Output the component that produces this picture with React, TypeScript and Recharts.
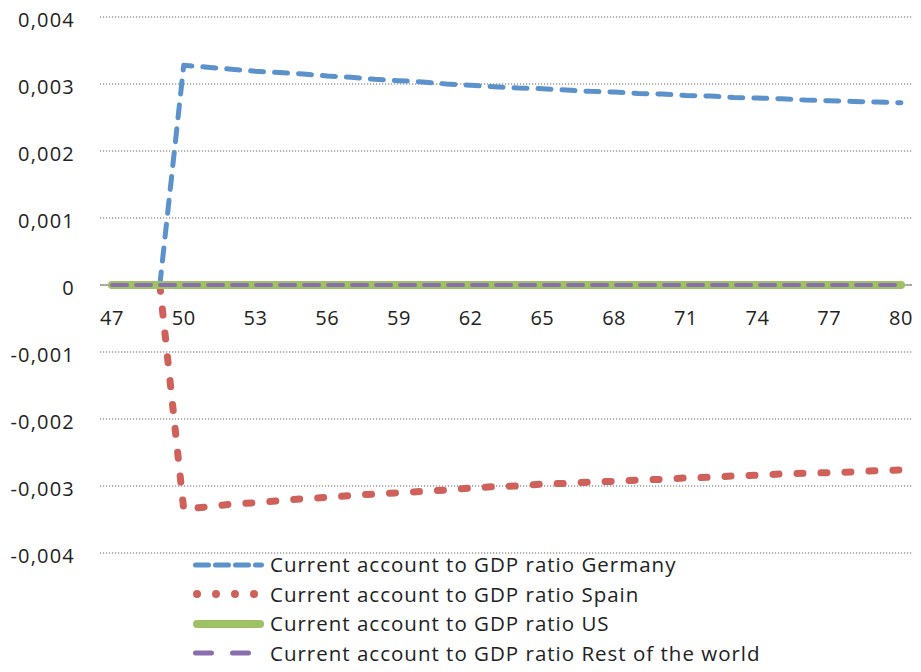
import { LineChart, Line, XAxis, YAxis, CartesianGrid, ReferenceLine } from 'recharts';

const years = [
  47, 48, 49, 50, 51, 52, 53, 54, 55, 56, 57, 58, 59, 60, 61, 62, 63,
  64, 65, 66, 67, 68, 69, 70, 71, 72, 73, 74, 75, 76, 77, 78, 79, 80,
];

// values in thousandths of GDP
const germany = [
  0, 0, 0, 3.28, 3.25, 3.22, 3.19, 3.17, 3.15, 3.12, 3.1, 3.07, 3.05, 3.03, 3.0, 2.98, 2.96,
  2.94, 2.93, 2.91, 2.89, 2.88, 2.86, 2.85, 2.83, 2.82, 2.8, 2.79, 2.78, 2.76, 2.75, 2.74, 2.73, 2.72,
];
const spain = [
  0, 0, 0, -3.35, -3.31, -3.27, -3.25, -3.22, -3.19, -3.17, -3.14, -3.12, -3.1, -3.08, -3.06, -3.03, -3.01,
  -3.0, -2.97, -2.96, -2.94, -2.93, -2.91, -2.9, -2.88, -2.87, -2.85, -2.84, -2.82, -2.81, -2.8, -2.79, -2.77, -2.76,
];
const us = years.map(() => 0);
const restOfWorld = years.map(() => 0);

const xTicks = [47, 50, 53, 56, 59, 62, 65, 68, 71, 74, 77, 80];
const yTicks = [0.004, 0.003, 0.002, 0.001, 0, -0.001, -0.002, -0.003, -0.004];

const seriesNames = [
  'Current account to GDP ratio Germany',
  'Current account to GDP ratio Spain',
  'Current account to GDP ratio US',
  'Current account to GDP ratio Rest of the world',
];

const data = years.map((yr, i) => ({
  year: yr,
  germany: germany[i] / 1000,
  spain: spain[i] / 1000,
  us: us[i] / 1000,
  rest: restOfWorld[i] / 1000,
}));

const W = 921;
const H = 672;
const TOP = 17;
const BOTTOM = 119;
const X_AXIS_H = 30;
const PLOT_H = H - TOP - BOTTOM;
const Y_MAX = 0.004;
const Y_MIN = -0.004;
const ZERO_Y = TOP + (PLOT_H * Y_MAX) / (Y_MAX - Y_MIN);
const FONT = '"Open Sans", "Liberation Sans", sans-serif';

const fmtY = (v: number) => (v === 0 ? '0' : v.toFixed(3).replace('.', ','));

function XTick(props: any) {
  return (
    <text
      x={props.x}
      y={ZERO_Y + 40}
      textAnchor="middle"
      fontSize={20}
      fill="#222"
      fontFamily={FONT}
      letterSpacing={0.5}
    >
      {props.payload.value}
    </text>
  );
}

const styles = [
  { key: 'germany', color: '#5b92cb', width: 5, dash: '13 11', legendW: 5, legendDash: '13 7' },
  { key: 'spain', color: '#cf615a', width: 7, dash: '6 18', legendW: 8, legendDash: '0 19' },
  { key: 'us', color: '#9dc163', width: 8, dash: undefined, legendW: 8, legendDash: undefined },
  { key: 'rest', color: '#8a6fae', width: 4, dash: '15 9', legendW: 5, legendDash: '16 21' },
];

export default function App() {
  return (
    <div style={{ position: 'absolute', left: 0, top: 0, width: W, height: H, background: '#fff' }}>
      <LineChart
        width={W}
        height={H}
        data={data}
        margin={{ top: TOP, right: 9, bottom: BOTTOM - X_AXIS_H, left: 0 }}
      >
        <CartesianGrid vertical={false} stroke="#999" strokeDasharray="1.2 1.8" strokeWidth={1.3} />
        <XAxis
          dataKey="year"
          type="number"
          domain={[47, 80]}
          ticks={xTicks}
          padding={{ left: 12, right: 11 }}
          axisLine={false}
          tickLine={false}
          height={X_AXIS_H}
          interval={0}
          tick={(p: any) => <XTick {...p} />}
        />
        <YAxis
          domain={[Y_MIN, Y_MAX]}
          ticks={yTicks}
          width={100}
          axisLine={false}
          tickLine={false}
          tickSize={0}
          tickMargin={25}
          tickFormatter={fmtY}
          tick={{ fontSize: 20, fill: '#222', fontFamily: FONT, dy: 3, letterSpacing: 1.2 }}
        />
        <ReferenceLine y={0} stroke="#999" strokeWidth={1.3} />
        {styles.map((s) => (
          <Line
            key={s.key}
            dataKey={s.key}
            type="linear"
            stroke={s.color}
            strokeWidth={s.width}
            strokeDasharray={s.dash}
            strokeLinecap="round"
            strokeLinejoin="round"
            dot={false}
            activeDot={false}
            isAnimationActive={false}
          />
        ))}
      </LineChart>
      <div
        style={{
          position: 'absolute',
          left: 190,
          top: 550,
          fontFamily: FONT,
          fontSize: 20.5,
          letterSpacing: 1,
          color: '#222',
        }}
      >
        {styles.map((s, i) => (
          <div key={s.key} style={{ display: 'flex', alignItems: 'center', height: 29.5 }}>
            <svg width={78} height={14} style={{ marginRight: 2 }}>
              <line
                x1={s.legendW / 2 + 3}
                x2={74 - s.legendW / 2}
                y1={7}
                y2={7}
                stroke={s.color}
                strokeWidth={s.legendW}
                strokeDasharray={s.legendDash}
                strokeLinecap="round"
              />
            </svg>
            <span style={{ lineHeight: '29px' }}>{seriesNames[i]}</span>
          </div>
        ))}
      </div>
    </div>
  );
}
